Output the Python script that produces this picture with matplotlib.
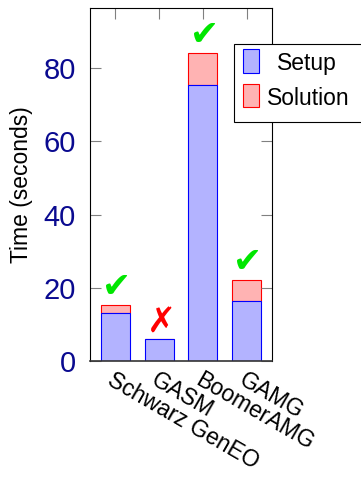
import matplotlib.pyplot as plt
from matplotlib.patches import Rectangle

plt.rcParams['font.family'] = ['Liberation Sans', 'DejaVu Sans']

# data
methods = ['Schwarz GenEO', 'GASM', 'BoomerAMG', 'GAMG']
setup = [13.0, 6.0, 75.3, 16.5]
solution = [2.3, 0.1, 8.7, 5.6]
converged = [True, False, True, True]

W, H = 361, 482
fig = plt.figure(figsize=(W/100, H/100), dpi=100)
ax = fig.add_axes([90/W, 1-361/H, 182/W, 353/H])

setup_style = dict(facecolor='#b3b3ff', edgecolor='blue', linewidth=0.8)
sol_style = dict(facecolor='#ffb3b3', edgecolor='red', linewidth=0.8)

x = range(len(methods))
ax.bar(x, solution, width=0.66, bottom=setup, **sol_style)
ax.bar(x, setup, width=0.66, **setup_style)

# check / cross marks above the bars
for i in x:
    top = setup[i] + solution[i]
    if converged[i]:
        ax.annotate('\u2714', (i, top), xytext=(1, 1), textcoords='offset points',
                    ha='center', va='bottom', color='#00e600', fontsize=25, family='DejaVu Sans')
    else:
        ax.annotate('\u2717', (i, top), xytext=(2, 0), textcoords='offset points',
                    ha='center', va='bottom', color='red', fontsize=25, family='DejaVu Sans')

ax.set_xlim(-0.58, 3.58)
ax.set_ylim(0, 96.4)
ax.set_yticks([0, 20, 40, 60, 80])
ax.set_xticks(list(x))
ax.set_xticklabels(methods, rotation=-30, ha='left', va='top', rotation_mode='anchor', fontsize=16.5)
ax.tick_params(axis='y', direction='in', length=8, color='gray', labelsize=21, labelcolor='#0a0a90',
               right=True, pad=10)
ax.tick_params(axis='x', direction='in', length=8, color='gray', top=True, bottom=False, pad=5)
ax.set_ylabel('Time (seconds)', fontsize=16.5, labelpad=8)
ax.spines['bottom'].set_color('#333333')
ax.spines['bottom'].set_linewidth(1.2)

# legend box (entries centred like the original), placed in figure pixels
def fx(px):
    return px / W

def fy(py):
    return 1 - py / H

fig.patches.append(Rectangle((fx(234), fy(122)), fx(130), 78/H, transform=fig.transFigure,
                             facecolor='white', edgecolor='black', linewidth=0.8))
fig.patches.append(Rectangle((fx(243), fy(73)), fx(16), 24/H, transform=fig.transFigure, **setup_style))
fig.patches.append(Rectangle((fx(243), fy(107)), fx(16), 23/H, transform=fig.transFigure, **sol_style))
fig.text(fx(307), fy(61), 'Setup', ha='center', va='center_baseline', fontsize=16.5)
fig.text(fx(308.5), fy(96), 'Solution', ha='center', va='center_baseline', fontsize=16.5)

fig.savefig('out.png', dpi=100)
